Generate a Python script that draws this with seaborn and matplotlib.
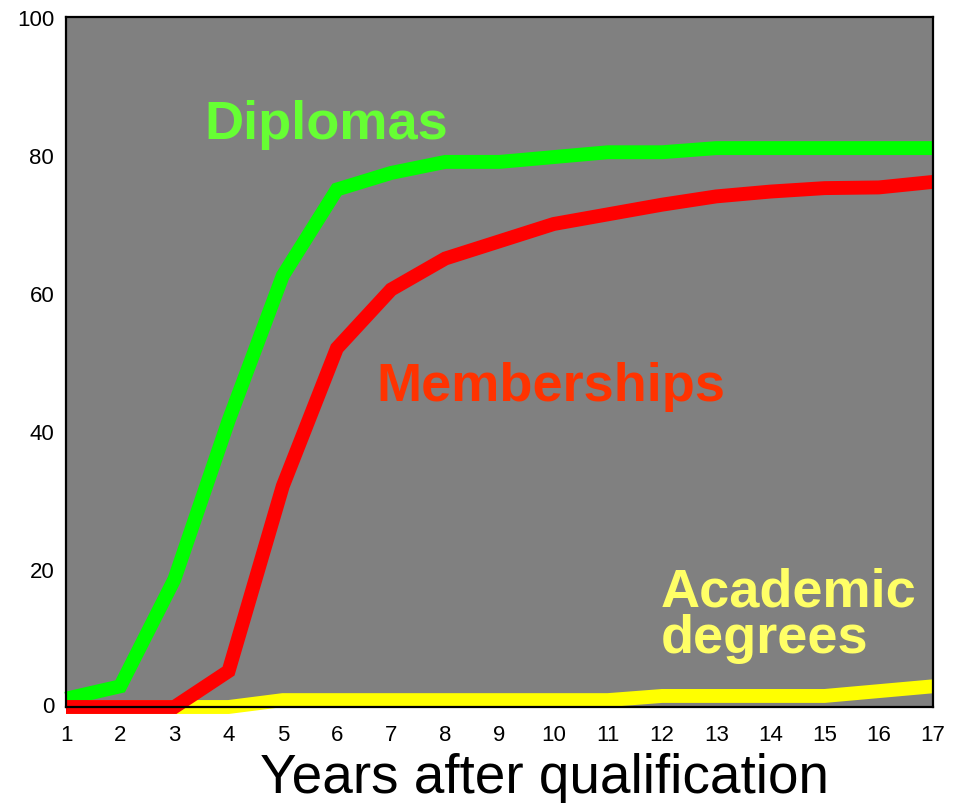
import numpy as np
import pandas as pd
import matplotlib
matplotlib.use("Agg")
import matplotlib.pyplot as plt
import seaborn as sns

years = list(range(1, 18))
diplomas = [1.2, 3.0, 18.5, 41.5, 62.5, 75.0, 77.4, 79.0, 79.0, 79.7, 80.4, 80.4, 81.0, 81.0, 81.0, 81.0, 81.0]
memberships = [0.0, 0.0, 0.0, 5.2, 32.0, 52.0, 60.5, 65.0, 67.5, 70.0, 71.4, 72.8, 74.0, 74.7, 75.2, 75.3, 76.1]
academic = [0.0, 0.0, 0.0, 0.0, 1.0, 1.0, 1.0, 1.0, 1.0, 1.0, 1.0, 1.6, 1.6, 1.6, 1.6, 2.3, 3.0]

series_names = ["Academic degrees", "Diplomas", "Memberships"]
line_colors = {"Academic degrees": "#FFFF00", "Diplomas": "#00FF00", "Memberships": "#FF0000"}

df = pd.DataFrame({
    "year": years * 3,
    "value": academic + diplomas + memberships,
    "series": ["Academic degrees"] * 17 + ["Diplomas"] * 17 + ["Memberships"] * 17,
})

sns.set_style("white")
plt.rcParams["font.family"] = ["Liberation Sans", "DejaVu Sans"]

fig = plt.figure(figsize=(9.61, 8.04), dpi=100)
ax = fig.add_axes([66 / 961, 96 / 804, 867 / 961, 690 / 804])
ax.set_facecolor("#808080")

sns.lineplot(data=df, x="year", y="value", hue="series", hue_order=series_names,
             palette=line_colors, linewidth=10, legend=False, ax=ax,
             estimator=None, sort=False)
for ln in ax.lines:
    ln.set_clip_on(False)
    ln.set_solid_joinstyle("miter")
    ln.set_solid_capstyle("butt")

ax.set_xlim(1, 17)
ax.set_ylim(0, 100)
ax.set_xticks(years)
ax.set_xticklabels([str(y) for y in years])
ax.set_yticks([0, 20, 40, 60, 80, 100])
ax.tick_params(axis="both", direction="out", length=3.5, width=2.8, color="black",
               labelsize=16, labelcolor="black")
ax.tick_params(axis="y", pad=5)
ax.tick_params(axis="x", pad=9)
# lift the zero label a little so it clears the x tick labels
for lbl in ax.get_yticklabels():
    if lbl.get_text() == "0":
        lbl.set_va("center")
        lbl.set_y(1.2)

for side in ["left", "bottom", "top", "right"]:
    ax.spines[side].set_visible(True)
    ax.spines[side].set_color("black")
    ax.spines[side].set_linewidth(1.6)
    ax.spines[side].set_zorder(5)

ax.set_xlabel("Years after qualification", fontsize=39.5, color="black")
ax.xaxis.set_label_coords((545 - 66) / 867, -0.065)
ax.set_ylabel("")


def px_to_data(px, py):
    inv = ax.transData.inverted()
    return inv.transform((px, 804 - py))


fig.canvas.draw()
x, y = px_to_data(326, 125)
ax.text(x, y, "Diplomas", color="#66FF33", fontsize=39, fontweight="bold",
        ha="center", va="center")
x, y = px_to_data(551, 387)
ax.text(x, y, "Memberships", color="#FF3300", fontsize=39, fontweight="bold",
        ha="center", va="center")
x, y = px_to_data(789, 616)
ax.text(x, y, "Academic\ndegrees", color="#FFFF66", fontsize=39, fontweight="bold",
        ha="center", va="center", linespacing=0.92, multialignment="left")

fig.savefig("out.png", dpi=100, facecolor="white")
